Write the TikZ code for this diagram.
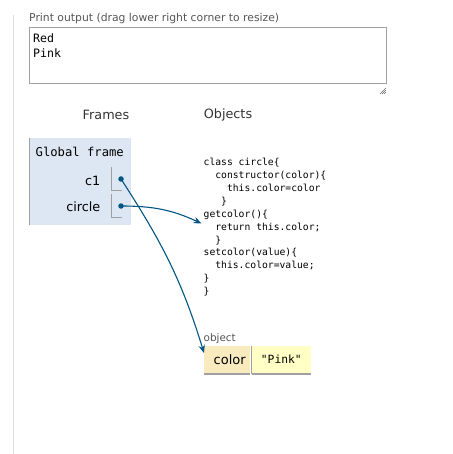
\documentclass[tikz,border=0pt]{standalone}
\usepackage{fontspec}
\setmainfont{DejaVu Sans}
\setmonofont{DejaVu Sans Mono}
\usetikzlibrary{arrows.meta,positioning}
\definecolor{framebg}{HTML}{DDE6F3}
\definecolor{keybg}{HTML}{FAEBBF}
\definecolor{valbg}{HTML}{FFFFC6}
\definecolor{ptr}{HTML}{005583}
\definecolor{rule}{HTML}{A0A0A0}
\definecolor{head}{HTML}{555555}
\newcommand{\ind}[1]{\phantom{#1}}

\begin{document}
\begin{tikzpicture}[x=1pt,y=1pt,
    sans/.style={inner sep=0pt,font=\fontsize{12.8}{14}\selectfont},
    mono/.style={inner sep=0pt,font=\ttfamily\fontsize{12.2}{14}\selectfont},
    small/.style={inner sep=0pt,text=head,font=\fontsize{10.8}{13}\selectfont},
    dot/.style={fill=ptr,circle,inner sep=0pt,minimum size=5.5pt},
    ref/.style={ptr,line width=1.1pt,-{Stealth[length=8pt,width=6.5pt]}},
    cell/.style={minimum height=28pt,inner sep=0pt,anchor=north west}]
    \useasboundingbox (0,0) rectangle (452,-454);
    \draw[black!13,line width=1.5pt] (13.5,-15) -- (13.5,-454);
    % print output
    \node[small,anchor=base west] (ptitle) at (29,-22) {Print output (drag lower right corner to resize)};
    \draw[rule,line width=1pt] (29.5,-27.5) rectangle (386,-84);
    \node[mono,anchor=north west,align=left,font=\ttfamily\fontsize{11.6}{15}\selectfont] (out) at (33,-33) {Red\\Pink};
    \foreach \d in {2,4,6}
      \draw[black!60,line width=.6pt] (386-\d,-94) -- (386,-94+\d);
    % headings
    \node[sans,text=black!80] (frames) at (106,-115) {Frames};
    \node[sans,text=black!80] (objects) at (228,-115) {Objects};
    % global frame
    \fill[framebg] (29,-138) rectangle (131,-225);
    \draw[rule,line width=1.5pt] (29.5,-138) -- (29.5,-225);
    \node[mono,anchor=west] (gframe) at (35.5,-152) {Global frame};
    \node[sans,anchor=east] (c1) at (100.5,-181) {c1};
    \node[sans,anchor=east] (circ) at (100.5,-207) {circle};
    \draw[rule,line width=1pt] (111.5,-167) |- (122,-190.5);
    \draw[rule,line width=1pt] (111.5,-194) |- (122,-217.5);
    \node[dot] (c1dot) at (121,-179) {};
    \node[dot] (circdot) at (121,-206) {};
    % class code
    \node[inner sep=0pt,anchor=north west,align=left,
      font=\ttfamily\fontsize{9.7}{12.9}\selectfont] (code) at (203.5,-158) {%
      class circle\{\\
      \ind{xx}constructor(color)\{\\
      \ind{xxxx}this.color=color\\
      \ind{xxx}\}\\
      getcolor()\{\\
      \ind{xx}return this.color;\\
      \ind{xx}\}\\
      setcolor(value)\{\\
      \ind{xx}this.color=value;\\
      \}\\
      \}};
    \coordinate (codein) at (201.5,-223.5);
    % object
    \node[small,anchor=base west,font=\fontsize{10.4}{12}\selectfont] (objlbl) at (203.5,-341) {object};
    \node[cell,fill=keybg,minimum width=46pt,font=\fontsize{13}{15}\selectfont] (colorkey) at (204,-345.5) {\hspace*{5pt}color};
    \node[cell,fill=valbg,minimum width=59pt,font=\ttfamily\fontsize{11.3}{14}\selectfont,right=1.2pt of colorkey.north east,anchor=north west] (pinkval) {"Pink"};
    \draw[rule,line width=1.2pt] (colorkey.south west) -- (colorkey.south east);
    \draw[rule,line width=1.2pt] (pinkval.south west) -- (pinkval.south east);
    \draw[rule,line width=.8pt] (colorkey.north east) ++(.6,0) -- ++(0,-28);
    % references
    \draw[ref] (circdot.center) to[out=0,in=155] (codein);
    \draw[ref] (c1dot.center) to[out=-57,in=107] (colorkey.west |- 0,-353);
  \end{tikzpicture}
\end{document}
